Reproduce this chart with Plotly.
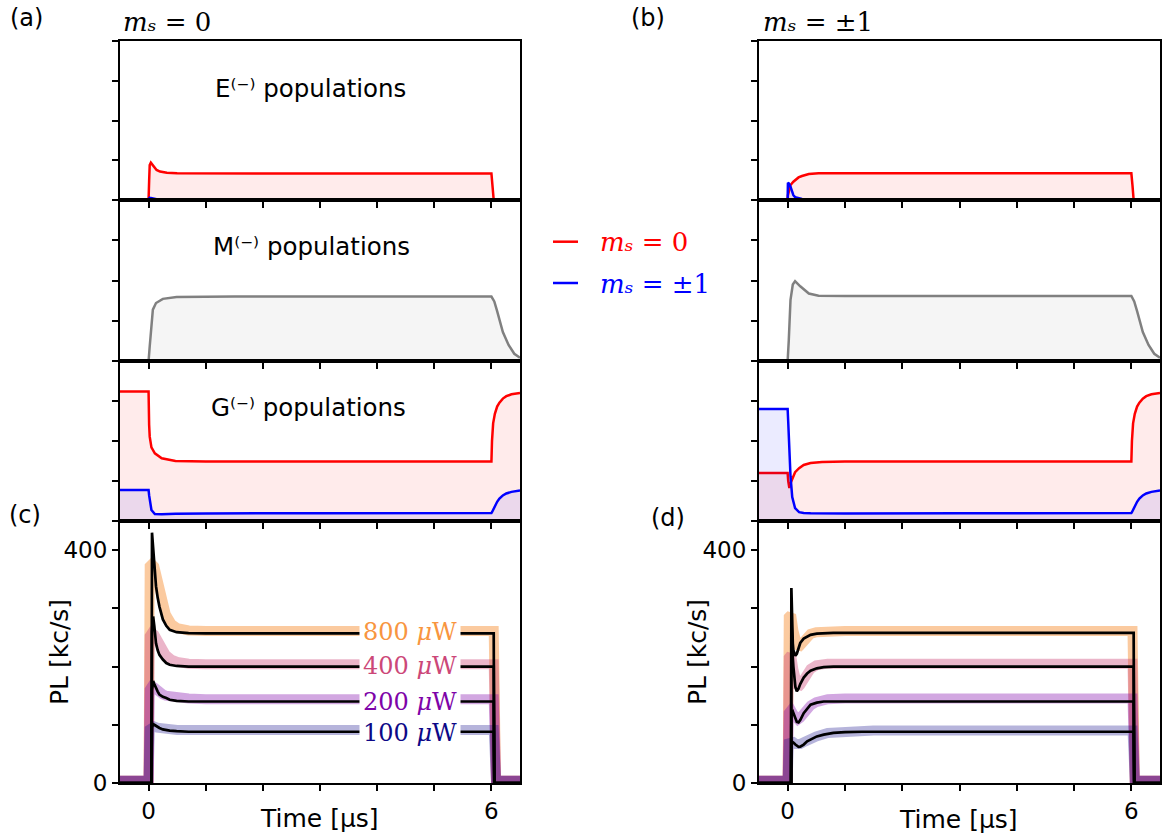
import plotly.graph_objects as go

W, H = 1162, 837

# ---------------- data: populations ----------------
# (a) m_s = 0 initial state
t_Ea = [-0.5, 0.0, 0.01, 0.02, 0.04, 0.08, 0.14, 0.2, 0.32, 0.5, 1.0, 3.0, 6.0, 6.02, 6.04, 6.5]
Ea_red = [0, 0, 0.12, 0.22, 0.235, 0.215, 0.189, 0.179, 0.171, 0.168, 0.167, 0.167, 0.167, 0.09, 0.0, 0.0]
Ea_blue = [0, 0, 0.01, 0.014, 0.012, 0.008, 0.005, 0.004, 0.003, 0.003, 0.003, 0.003, 0.003, 0.002, 0.0, 0.0]

t_Ma = [-0.5, 0.0, 0.02, 0.05, 0.075, 0.13, 0.25, 0.49, 0.8, 1.5, 6.0, 6.05, 6.1, 6.15, 6.2, 6.3, 6.4, 6.5]
Ma_grey = [0, 0, 0.09, 0.236, 0.319, 0.36, 0.386, 0.398, 0.40, 0.40, 0.40, 0.37, 0.31, 0.24, 0.18, 0.10, 0.045, 0.02]

t_Ga = [-0.5, 0.0, 0.01, 0.02, 0.05, 0.11, 0.23, 0.47, 1.0, 3.0, 6.0, 6.01, 6.03, 6.06, 6.1, 6.14, 6.2, 6.26, 6.35, 6.5]
Ga_red = [0.81, 0.81, 0.60, 0.527, 0.46, 0.423, 0.392, 0.375, 0.372, 0.372, 0.372, 0.50, 0.61, 0.67, 0.715, 0.74, 0.765, 0.78, 0.792, 0.80]
Ga_blue = [0.194, 0.194, 0.16, 0.131, 0.069, 0.044, 0.042, 0.045, 0.047, 0.049, 0.05, 0.055, 0.07, 0.095, 0.12, 0.14, 0.16, 0.172, 0.182, 0.19]

# (b) m_s = +-1 initial state
t_Eb = [-0.5, 0.0, 0.005, 0.02, 0.05, 0.1, 0.13, 0.19, 0.25, 0.37, 0.54, 1.0, 3.0, 6.0, 6.02, 6.04, 6.5]
Eb_red = [0, 0, 0.03, 0.06, 0.094, 0.115, 0.126, 0.142, 0.151, 0.163, 0.168, 0.168, 0.168, 0.168, 0.09, 0, 0]
Eb_blue = [0, 0, 0.109, 0.105, 0.084, 0.03, 0.018, 0.01, 0.006, 0.004, 0.003, 0.003, 0.003, 0.003, 0.002, 0, 0]

t_Mb = [-0.5, 0.0, 0.02, 0.05, 0.09, 0.13, 0.22, 0.37, 0.54, 1.0, 6.0, 6.05, 6.1, 6.15, 6.2, 6.3, 6.4, 6.5]
Mb_grey = [0, 0, 0.13, 0.38, 0.475, 0.496, 0.464, 0.419, 0.406, 0.404, 0.404, 0.37, 0.31, 0.24, 0.18, 0.10, 0.045, 0.02]

t_Gb = [-0.5, 0.0, 0.01, 0.03, 0.05, 0.08, 0.13, 0.2, 0.28, 0.4, 0.6, 1.0, 3.0, 6.0, 6.01, 6.03, 6.06, 6.1, 6.14, 6.2, 6.26, 6.35, 6.5]
Gb_red = [0.30, 0.30, 0.25, 0.206, 0.235, 0.265, 0.305, 0.33, 0.35, 0.362, 0.369, 0.372, 0.372, 0.372, 0.50, 0.61, 0.67, 0.715, 0.74, 0.765, 0.78, 0.792, 0.80]
Gb_blue = [0.70, 0.70, 0.62, 0.42, 0.28, 0.15, 0.08, 0.055, 0.05, 0.048, 0.047, 0.047, 0.048, 0.05, 0.055, 0.07, 0.095, 0.12, 0.14, 0.16, 0.172, 0.182, 0.19]

# ---------------- data: photoluminescence ----------------
powers = ["800", "400", "200", "100"]
pl_colors = ["#f89540", "#cc4778", "#7e03a8", "#0d0887"]
band_rgba = ["rgba(248,149,64,0.5)", "rgba(204,71,120,0.4)", "rgba(126,3,168,0.35)", "rgba(13,8,135,0.3)"]

# (c) measured data (thick bands) and fits (black)
t_dat_c = [-0.5, 0.0, 0.02, 0.06, 0.1, 0.15, 0.2, 0.25, 0.3, 0.4, 0.5, 0.7, 1.0, 6.04, 6.08, 6.5]
dat_c = {
    "800": [4, 4, 372, 376, 372, 350, 325, 305, 290, 273, 266, 262, 261, 261, 4, 4],
    "400": [4, 4, 252, 258, 255, 245, 236, 228, 220, 212, 208, 205, 204, 204, 4, 4],
    "200": [4, 4, 160, 166, 164, 158, 155, 152, 150, 148, 146, 145, 144, 144, 4, 4],
    "100": [4, 4, 92, 97, 97, 95, 94, 93, 92, 91, 91, 91, 91, 91, 4, 4],
}
t_fit_c = [-0.5, 0.05, 0.06, 0.08, 0.1, 0.13, 0.16, 0.19, 0.25, 0.31, 0.37, 0.49, 0.7, 1.0, 6.04, 6.05, 6.5]
fit_c = {
    "800": [0, 0, 430, 400, 370, 338, 318, 303, 281, 270, 263, 259, 257.5, 257, 257, 0, 0],
    "400": [0, 0, 260, 286, 270, 240, 228, 220, 212, 206, 203, 201, 200, 200, 200, 0, 0],
    "200": [0, 0, 160, 175, 170, 162, 157, 152, 148, 146, 143, 141, 140, 140, 140, 0, 0],
    "100": [0, 0, 95, 101, 100, 98, 96, 94.5, 92, 90.5, 90, 89, 88, 88, 88, 0, 0],
}

# (d)
t_dat_d = [-0.5, 0.0, 0.02, 0.06, 0.1, 0.14, 0.18, 0.22, 0.3, 0.4, 0.5, 0.7, 1.0, 1.5, 6.02, 6.06, 6.5]
dat_d = {
    "800": [4, 4, 285, 289, 262, 240, 232, 236, 248, 256, 259, 261, 261, 261, 261, 4, 4],
    "400": [4, 4, 215, 220, 195, 172, 164, 168, 184, 196, 202, 205, 205, 205, 205, 4, 4],
    "200": [4, 4, 120, 125, 118, 111, 109, 112, 122, 133, 139, 144, 145, 145, 145, 4, 4],
    "100": [4, 4, 68, 72, 70, 67, 66, 67, 71, 76, 80, 86, 89, 90, 90, 4, 4],
}
t_fit_d = [-0.5, 0.06, 0.065, 0.07, 0.09, 0.1, 0.135, 0.16, 0.19, 0.22, 0.28, 0.34, 0.4, 0.51, 0.63, 0.8, 1.0, 1.3, 6.04, 6.05, 6.5]
fit_d = {
    "800": [0, 0, 335, 300, 240, 228, 218.7, 222, 232, 240.5, 248, 252, 254.5, 256.5, 257.3, 257.7, 257.7, 257.7, 257.7, 0, 0],
    "400": [0, 0, 280, 260, 215, 200, 165, 157.4, 162, 170, 181, 188, 193, 197, 199, 200, 200, 200, 200, 0, 0],
    "200": [0, 0, 118, 121, 123, 120, 110, 105, 104, 108, 120, 128, 134.5, 138, 140, 140, 140, 140, 140, 0, 0],
    "100": [0, 0, 66, 68, 70, 69.5, 66, 63.5, 62, 62.5, 66, 71.5, 75, 80, 83, 86, 87.3, 88, 88, 0, 0],
}

x_major = [0, 6]
x_major_text = ["0", "6"]
x_minor = [1, 2, 3, 4, 5]
pop_ticks = [0, 0.25, 0.5, 0.75, 1.0]
pl_major = [0, 400]
pl_major_text = ["0", "400"]
pl_minor = [100, 200, 300]

# ---------------- layout geometry (pixels) ----------------
col_px = {"L": (120, 520), "R": (759, 1160)}
row_px = {"E": (41, 200), "M": (200, 361), "G": (361, 521), "P": (521, 783)}
panels = [("L", "E"), ("L", "M"), ("L", "G"), ("L", "P"),
          ("R", "E"), ("R", "M"), ("R", "G"), ("R", "P")]

SANS = "DejaVu Sans"
SERIF = "DejaVu Serif"

fig = go.Figure()
layout = dict(width=W, height=H, margin=dict(l=0, r=0, t=0, b=0, autoexpand=False), autosize=False,
              paper_bgcolor="white", plot_bgcolor="white", showlegend=False,
              font=dict(family=SANS, size=23, color="black"))

axis_common = dict(showline=True, linecolor="black", linewidth=2, mirror=True,
                   ticks="outside", ticklen=6, tickwidth=1.5, tickcolor="black",
                   showgrid=False, zeroline=False, automargin=False)
minor_common = dict(ticks="outside", ticklen=6, tickwidth=1.5, tickcolor="black", showgrid=False)

for i, (c, r) in enumerate(panels, start=1):
    xs = "" if i == 1 else str(i)
    x0, x1 = col_px[c]
    y0, y1 = row_px[r]
    xa = dict(axis_common, domain=[x0 / W, x1 / W], range=[-0.5, 6.5],
              tickmode="array", tickvals=x_major,
              minor=dict(minor_common, tickvals=x_minor), anchor="y" + xs)
    ya = dict(axis_common, domain=[1 - y1 / H, 1 - y0 / H], anchor="x" + xs)
    if r == "P":
        xa.update(ticktext=x_major_text, showticklabels=True, tickfont=dict(size=23))
        ya.update(range=[0, 450], tickmode="array", tickvals=pl_major, ticktext=pl_major_text,
                  minor=dict(minor_common, tickvals=pl_minor),
                  showticklabels=True, tickfont=dict(size=23))
    else:
        xa.update(showticklabels=False)
        ya.update(range=[0, 1], tickmode="array", tickvals=pop_ticks, showticklabels=False)
    layout["xaxis" + xs] = xa
    layout["yaxis" + xs] = ya


def ax(i):
    s = "" if i == 1 else str(i)
    return dict(xaxis="x" + s, yaxis="y" + s)


RED_FILL = "rgba(255,0,0,0.08)"
BLUE_FILL = "rgba(0,0,255,0.08)"
GREY_FILL = "rgba(128,128,128,0.08)"


def pop(t, y, color, fill, i):
    fig.add_trace(go.Scatter(x=t, y=y, mode="lines", line=dict(color=color, width=2.5),
                             fill="tozeroy", fillcolor=fill, hoverinfo="skip", **ax(i)))


pop(t_Ea, Ea_red, "red", RED_FILL, 1)
pop(t_Ea, Ea_blue, "blue", BLUE_FILL, 1)
pop(t_Ma, Ma_grey, "gray", GREY_FILL, 2)
pop(t_Ga, Ga_red, "red", RED_FILL, 3)
pop(t_Ga, Ga_blue, "blue", BLUE_FILL, 3)
pop(t_Eb, Eb_red, "red", RED_FILL, 5)
pop(t_Eb, Eb_blue, "blue", BLUE_FILL, 5)
pop(t_Mb, Mb_grey, "gray", GREY_FILL, 6)
pop(t_Gb, Gb_red, "red", RED_FILL, 7)
pop(t_Gb, Gb_blue, "blue", BLUE_FILL, 7)

for i, t_dat, dat, t_fit, fit in [(4, t_dat_c, dat_c, t_fit_c, fit_c), (8, t_dat_d, dat_d, t_fit_d, fit_d)]:
    for p, rgba in zip(powers, band_rgba):
        fig.add_trace(go.Scatter(x=t_dat, y=dat[p], mode="lines",
                                 line=dict(color=rgba, width=10), hoverinfo="skip", **ax(i)))
    for p in powers:
        fig.add_trace(go.Scatter(x=t_fit, y=fit[p], mode="lines",
                                 line=dict(color="black", width=2.7), hoverinfo="skip", **ax(i)))

ann = []


def txt(text, px, py, size=24, family=SANS, color="black", xanchor="center", yanchor="middle", **kw):
    ann.append(dict(text=text, x=px / W, y=1 - py / H, xref="paper", yref="paper",
                    showarrow=False, xanchor=xanchor, yanchor=yanchor,
                    font=dict(size=size, family=family, color=color), **kw))


MS0 = "<i>m\u209b</i> = 0"
MS1 = "<i>m\u209b</i> = ±1"

txt("(a)", 26, 18)
txt("(b)", 648, 18)
txt("(c)", 25, 515)
txt("(d)", 668, 518)
txt(MS0, 121, 22, size=26, family=SERIF, xanchor="left")
txt(MS1, 761, 22, size=26, family=SERIF, xanchor="left")
txt("E\u207d\u207b\u207e populations", 310, 88, size=24.5)
txt("M\u207d\u207b\u207e populations", 311, 247, size=24.5)
txt("G\u207d\u207b\u207e populations", 308, 407, size=24.5)
# legend
txt(MS0, 598, 242, size=26, family=SERIF, color="red", xanchor="left")
txt(MS1, 598, 284, size=26, family=SERIF, color="blue", xanchor="left")
# axis titles
for cx in (59, 697):
    txt("PL [kc/s]", cx, 652, size=25, textangle=-90)
txt("Time [μs]", 320, 818, size=25)
txt("Time [μs]", 958, 819, size=25)

# power labels inside (c)
label_y = [259, 201, 139.6, 86]
for p, col, ly in zip(powers, pl_colors, label_y):
    ann.append(dict(text=p + " <i>μ</i>W", x=5.47, y=ly, xref="x4", yref="y4",
                    showarrow=False, xanchor="right", yanchor="middle",
                    bgcolor="white", borderpad=3,
                    font=dict(size=24, family=SERIF, color=col)))

layout["annotations"] = ann
layout["shapes"] = [
    dict(type="line", xref="paper", yref="paper", x0=553 / W, x1=578 / W,
         y0=1 - 241.7 / H, y1=1 - 241.7 / H, line=dict(color="red", width=2.5)),
    dict(type="line", xref="paper", yref="paper", x0=553 / W, x1=578 / W,
         y0=1 - 283 / H, y1=1 - 283 / H, line=dict(color="blue", width=2.5)),
]

fig.update_layout(**layout)
fig.write_html("out.html")
